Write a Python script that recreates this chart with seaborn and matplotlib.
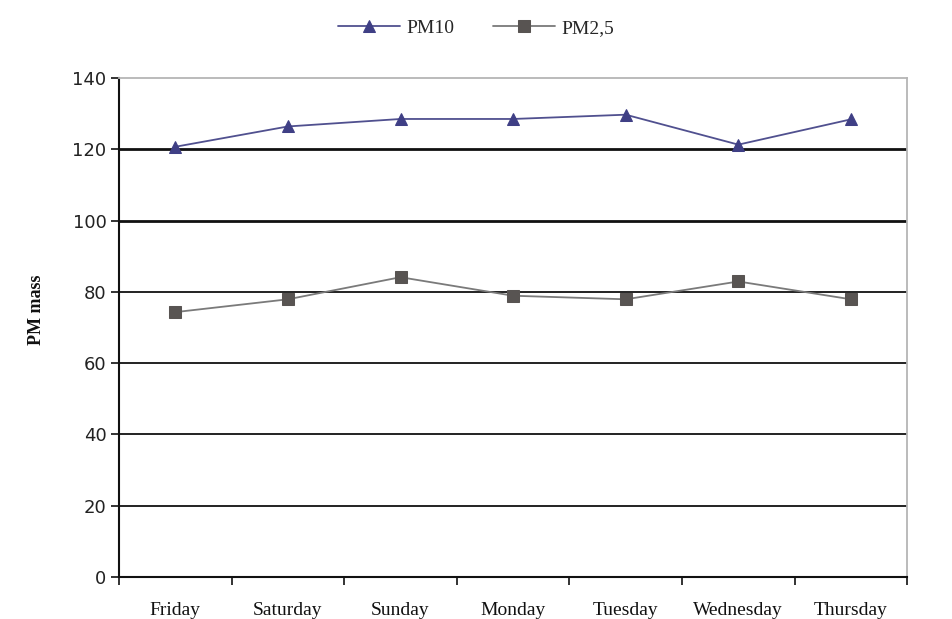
import matplotlib
matplotlib.use("Agg")
import matplotlib.pyplot as plt
import seaborn as sns
import pandas as pd

days = ["Friday", "Saturday", "Sunday", "Monday", "Tuesday", "Wednesday", "Thursday"]
pm10 = [120.7, 126.4, 128.5, 128.5, 129.7, 121.3, 128.4]
pm25 = [74.3, 77.9, 84.1, 78.9, 77.9, 82.9, 77.9]
y_ticks = [0, 20, 40, 60, 80, 100, 120, 140]

sns.set_theme(style="white")
serif = ["Liberation Serif", "DejaVu Serif"]

fig = plt.figure(figsize=(9.52, 6.19), dpi=100)
ax = fig.add_axes([0.125, 0.068, 0.828, 0.806])

df = pd.DataFrame({"day": days * 2,
                   "value": pm10 + pm25,
                   "series": ["PM10"] * len(days) + ["PM2,5"] * len(days)})

pos = {d: i for i, d in enumerate(days)}
df["x"] = df["day"].map(pos)

sns.lineplot(data=df[df.series == "PM10"], x="x", y="value", ax=ax,
             color="#50508f", linewidth=1.3, marker="^", markersize=8.5,
             markerfacecolor="#3f3f85", markeredgecolor="#3f3f85", label="PM10")
sns.lineplot(data=df[df.series == "PM2,5"], x="x", y="value", ax=ax,
             color="#7a7a7a", linewidth=1.3, marker="s", markersize=8.5,
             markerfacecolor="#585452", markeredgecolor="#585452", label="PM2,5")

ax.set_xlim(-0.5, len(days) - 0.5)
ax.set_ylim(0, 140)
ax.set_yticks(y_ticks)
ax.set_yticklabels([str(v) for v in y_ticks], fontsize=13, family="DejaVu Sans", color="#222")

# category labels centered, tick marks at category boundaries
ax.set_xticks(range(len(days)))
ax.set_xticklabels(days, fontsize=14, family=serif, color="#111")
ax.set_xticks([i - 0.5 for i in range(len(days) + 1)], minor=True)
ax.tick_params(axis="x", which="major", length=0, pad=18)
ax.tick_params(axis="x", which="minor", length=6, width=1.2, color="#111", direction="out", bottom=True)
ax.tick_params(axis="y", length=6, width=1.2, color="#111", direction="out", left=True, pad=3)

ax.set_xlabel("")
ax.set_ylabel("PM mass", fontsize=13, family=serif, weight="bold", color="#111")
ax.yaxis.set_label_coords(-0.094, 0.535)

# horizontal gridlines
for v in y_ticks[1:-1]:
    ax.axhline(v, color="#111", linewidth=2.0 if v >= 100 else 1.3, zorder=0.5)

for side in ["left", "bottom"]:
    ax.spines[side].set_color("#111")
    ax.spines[side].set_linewidth(1.5)
for side in ["top", "right"]:
    ax.spines[side].set_color("#b5b5b5")
    ax.spines[side].set_linewidth(1.3)

leg = ax.legend(loc="center", bbox_to_anchor=(0.5, 0.955), bbox_transform=fig.transFigure,
                ncol=2, frameon=False, prop={"family": serif, "size": 14},
                handlelength=3.2, columnspacing=2.0, handletextpad=0.3)

fig.savefig("out.png", dpi=100, facecolor="white")
